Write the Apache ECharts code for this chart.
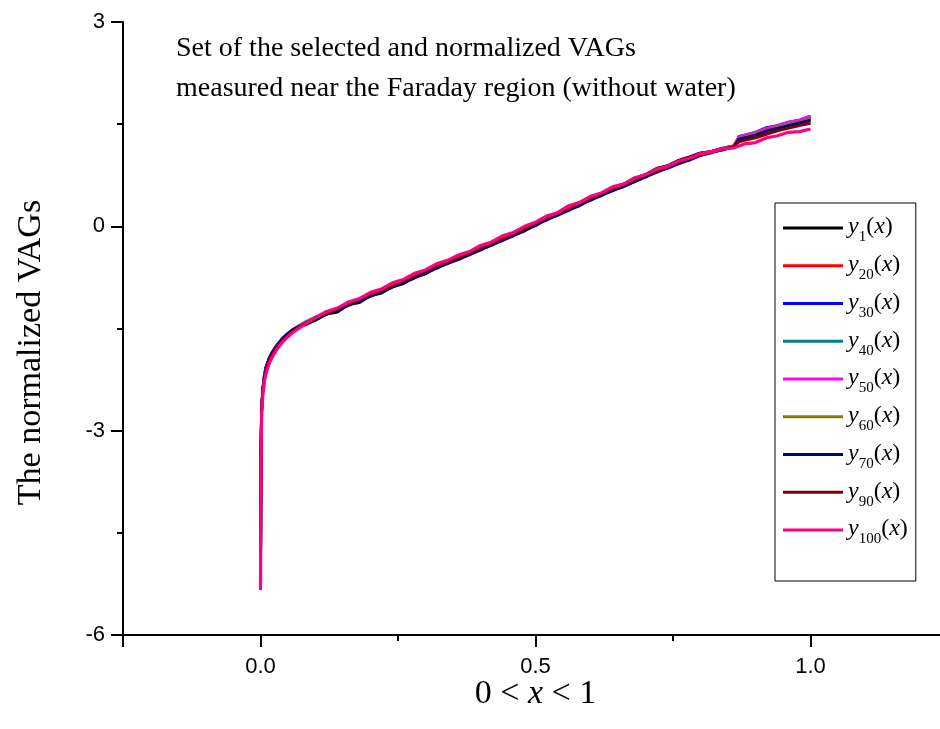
<!DOCTYPE html>
<html>
<head>
<meta charset="utf-8">
<script src="https://cdn.jsdelivr.net/npm/echarts@6/dist/echarts.min.js"></script>
<style>html,body{margin:0;padding:0;background:#fff}#c{width:940px;height:729px}</style>
</head>
<body>
<div id="c"></div>
<script>
const xs = [0, 0.0005, 0.001, 0.002, 0.004, 0.007, 0.01, 0.015, 0.02, 0.03, 0.04, 0.05, 0.06,
  0.08, 0.10, 0.12, 0.14, 0.16, 0.18, 0.20, 0.22, 0.24, 0.26,
  0.28, 0.30, 0.32, 0.34, 0.36, 0.38, 0.40, 0.42, 0.44, 0.46,
  0.48, 0.50, 0.52, 0.54, 0.56, 0.58, 0.60, 0.62, 0.64, 0.66,
  0.68, 0.70, 0.72, 0.74, 0.76, 0.78, 0.80, 0.82, 0.84, 0.86,
  0.87, 0.88, 0.90, 0.92, 0.94, 0.96, 0.98, 1.00];

const y1 = [-5.33, -4.2, -3.2, -2.68, -2.40, -2.20, -2.08, -1.96, -1.87, -1.75, -1.66, -1.59, -1.53,
  -1.45, -1.38, -1.29, -1.26, -1.15, -1.12, -1.02, -0.98, -0.89, -0.84,
  -0.75, -0.70, -0.60, -0.54, -0.46, -0.40, -0.31, -0.24, -0.17, -0.10,
  -0.02, 0.05, 0.14, 0.20, 0.29, 0.35, 0.43, 0.49, 0.57, 0.62,
  0.71, 0.76, 0.85, 0.89, 0.97, 1.02, 1.08, 1.10, 1.15, 1.18,
  1.27, 1.31, 1.33, 1.41, 1.43, 1.49, 1.51, 1.57];
const y20 = [-5.33, -4.1, -3.1, -2.66, -2.41, -2.21, -2.09, -1.97, -1.88, -1.76, -1.65, -1.58, -1.52,
  -1.42, -1.34, -1.27, -1.21, -1.13, -1.07, -0.99, -0.94, -0.86, -0.80,
  -0.72, -0.66, -0.58, -0.52, -0.45, -0.38, -0.32, -0.24, -0.18, -0.10,
  -0.04, 0.05, 0.12, 0.20, 0.27, 0.35, 0.41, 0.49, 0.55, 0.62,
  0.68, 0.76, 0.81, 0.89, 0.94, 1.01, 1.05, 1.10, 1.13, 1.17,
  1.26, 1.28, 1.32, 1.37, 1.41, 1.46, 1.49, 1.53];
const y30 = [-5.33, -4.3, -3.3, -2.72, -2.40, -2.18, -2.06, -1.95, -1.86, -1.74, -1.64, -1.57, -1.51,
  -1.42, -1.35, -1.29, -1.22, -1.16, -1.08, -1.03, -0.95, -0.89, -0.82,
  -0.76, -0.68, -0.62, -0.54, -0.49, -0.41, -0.35, -0.27, -0.21, -0.13,
  -0.07, 0.03, 0.09, 0.17, 0.23, 0.32, 0.38, 0.46, 0.52, 0.59,
  0.65, 0.73, 0.79, 0.86, 0.92, 0.99, 1.04, 1.09, 1.12, 1.17,
  1.32, 1.34, 1.38, 1.45, 1.48, 1.53, 1.56, 1.62];
const y40 = [-5.33, -4.2, -3.25, -2.70, -2.42, -2.21, -2.08, -1.96, -1.87, -1.75, -1.65, -1.57, -1.51,
  -1.41, -1.33, -1.27, -1.20, -1.14, -1.07, -1.00, -0.94, -0.87, -0.80,
  -0.73, -0.66, -0.59, -0.53, -0.46, -0.39, -0.32, -0.25, -0.19, -0.11,
  -0.05, 0.04, 0.11, 0.18, 0.26, 0.33, 0.40, 0.47, 0.54, 0.60,
  0.67, 0.74, 0.81, 0.87, 0.94, 1.00, 1.05, 1.09, 1.13, 1.17,
  1.30, 1.33, 1.37, 1.43, 1.47, 1.51, 1.55, 1.60];
const y50 = [-5.33, -4.15, -3.15, -2.69, -2.41, -2.20, -2.08, -1.96, -1.87, -1.75, -1.65, -1.58, -1.52,
  -1.42, -1.34, -1.27, -1.21, -1.14, -1.07, -1.00, -0.93, -0.87, -0.80,
  -0.73, -0.66, -0.59, -0.52, -0.46, -0.39, -0.32, -0.25, -0.18, -0.11,
  -0.04, 0.04, 0.12, 0.19, 0.26, 0.34, 0.41, 0.48, 0.55, 0.61,
  0.68, 0.75, 0.81, 0.88, 0.94, 1.00, 1.06, 1.10, 1.14, 1.18,
  1.31, 1.34, 1.38, 1.44, 1.48, 1.53, 1.56, 1.62];
const y60 = [-5.33, -4.25, -3.25, -2.71, -2.43, -2.22, -2.10, -1.98, -1.88, -1.76, -1.66, -1.58, -1.52,
  -1.42, -1.34, -1.28, -1.21, -1.14, -1.08, -1.01, -0.95, -0.88, -0.81,
  -0.74, -0.67, -0.60, -0.53, -0.47, -0.40, -0.33, -0.26, -0.19, -0.12,
  -0.05, 0.03, 0.11, 0.18, 0.25, 0.33, 0.40, 0.47, 0.54, 0.60,
  0.67, 0.74, 0.80, 0.87, 0.93, 0.99, 1.05, 1.09, 1.13, 1.17,
  1.29, 1.31, 1.36, 1.41, 1.46, 1.50, 1.53, 1.58];
const y70 = [-5.33, -4.3, -3.3, -2.73, -2.43, -2.21, -2.08, -1.96, -1.87, -1.75, -1.65, -1.57, -1.51,
  -1.43, -1.35, -1.29, -1.22, -1.16, -1.09, -1.02, -0.96, -0.89, -0.83,
  -0.75, -0.69, -0.61, -0.55, -0.48, -0.42, -0.34, -0.28, -0.20, -0.14,
  -0.06, 0.01, 0.10, 0.16, 0.24, 0.30, 0.39, 0.45, 0.53, 0.58,
  0.66, 0.72, 0.80, 0.85, 0.92, 0.97, 1.04, 1.08, 1.13, 1.16,
  1.28, 1.30, 1.34, 1.40, 1.44, 1.48, 1.52, 1.56];
const y90 = [-5.33, -4.2, -3.2, -2.70, -2.43, -2.23, -2.11, -1.98, -1.89, -1.77, -1.67, -1.59, -1.53,
  -1.43, -1.34, -1.28, -1.21, -1.14, -1.07, -1.00, -0.94, -0.87, -0.80,
  -0.73, -0.66, -0.59, -0.52, -0.46, -0.39, -0.32, -0.25, -0.18, -0.11,
  -0.04, 0.04, 0.12, 0.19, 0.26, 0.34, 0.41, 0.48, 0.55, 0.61,
  0.68, 0.75, 0.81, 0.88, 0.94, 1.00, 1.05, 1.09, 1.13, 1.17,
  1.24, 1.26, 1.30, 1.35, 1.40, 1.44, 1.48, 1.51];
const y100 = [-5.33, -4.4, -3.5, -2.80, -2.50, -2.28, -2.16, -2.03, -1.94, -1.80, -1.70, -1.62, -1.55,
  -1.44, -1.34, -1.25, -1.20, -1.11, -1.06, -0.97, -0.92, -0.83, -0.78,
  -0.69, -0.64, -0.55, -0.50, -0.42, -0.37, -0.28, -0.23, -0.14, -0.09,
  0.00, 0.06, 0.15, 0.20, 0.30, 0.35, 0.44, 0.49, 0.58, 0.62,
  0.71, 0.76, 0.84, 0.88, 0.96, 1.00, 1.07, 1.09, 1.14, 1.15,
  1.18, 1.21, 1.23, 1.30, 1.33, 1.38, 1.39, 1.43];

const seriesNames = ['y1', 'y20', 'y30', 'y40', 'y50', 'y60', 'y70', 'y90', 'y100'];
const seriesSubs = ['1', '20', '30', '40', '50', '60', '70', '90', '100'];
const seriesValues = [y1, y20, y30, y40, y50, y60, y70, y90, y100];
const seriesColors = ['#000000', '#ff0000', '#0000ff', '#008080', '#ff00ff', '#808000', '#000080', '#800000', '#ff0080'];

const xMajorTicks = [-0.25, 0, 0.5, 1.0];
const xMinorTicks = [0.25, 0.75];
const xTickLabels = [0, 0.5, 1.0];

const titleLines = ['Set of the selected and normalized VAGs', 'measured near the Faraday region (without water)'];
const yAxisTitle = 'The normalized VAGs';

const serif = "'Liberation Serif', 'Times New Roman', serif";
const sans = "'Liberation Sans', Arial, sans-serif";

const chart = echarts.init(document.getElementById('c'));
const subOf = {};
seriesNames.forEach((n, i) => subOf[n] = seriesSubs[i]);

chart.setOption({
  animation: false,
  backgroundColor: '#fff',
  title: {
    text: titleLines.join('\n'),
    left: 171, top: 24,
    textStyle: { fontFamily: serif, fontSize: 28, fontWeight: 'normal', color: '#000', lineHeight: 40 }
  },
  grid: { left: 123, width: 825, top: 22, bottom: 94, containLabel: false, outerBoundsMode: 'none' },
  legend: {
    orient: 'vertical',
    left: 775, top: 203,
    padding: [12, 8, 34, 8],
    itemGap: 7.75,
    itemWidth: 60, itemHeight: 3,
    itemStyle: { borderWidth: 0 },
    icon: 'rect',
    borderColor: '#000', borderWidth: 1,
    data: seriesNames,
    formatter: n => '{i|y}{s|' + subOf[n] + '}{p|(}{i|x}{p|)}',
    textStyle: {
      color: '#000',
      rich: {
        i: { fontFamily: serif, fontStyle: 'italic', fontSize: 24, lineHeight: 26, verticalAlign: 'top', color: '#000' },
        p: { fontFamily: serif, fontSize: 24, lineHeight: 26, verticalAlign: 'top', color: '#000' },
        s: { fontFamily: serif, fontSize: 15, lineHeight: 14, padding: [15, 0, 0, 0], verticalAlign: 'top', color: '#000' }
      }
    }
  },
  xAxis: [{
    type: 'value', min: -0.25, max: 1.25,
    position: 'bottom',
    name: '{n|0 < }{i|x}{n| < 1}',
    nameLocation: 'middle', nameGap: 42,
    nameMoveOverlap: false,
    nameTextStyle: {
      rich: {
        n: { fontFamily: serif, fontSize: 34, color: '#000' },
        i: { fontFamily: serif, fontSize: 34, fontStyle: 'italic', color: '#000' }
      }
    },
    axisLine: { onZero: false, lineStyle: { color: '#000', width: 2 } },
    axisTick: { show: true, length: 12, lineStyle: { color: '#000', width: 2 }, customValues: xMajorTicks },
    axisLabel: { customValues: xTickLabels, formatter: v => v.toFixed(1), fontFamily: sans, fontSize: 22, color: '#000', margin: 21 },
    splitLine: { show: false }
  }, {
    type: 'value', min: -0.25, max: 1.25,
    position: 'bottom',
    axisLine: { show: false, onZero: false },
    axisTick: { show: true, length: 6, lineStyle: { color: '#000', width: 2 }, customValues: xMinorTicks },
    axisLabel: { show: false },
    splitLine: { show: false }
  }],
  yAxis: {
    type: 'value', min: -6, max: 3, interval: 3,
    name: yAxisTitle,
    nameLocation: 'middle', nameGap: 75,
    nameMoveOverlap: false,
    nameTextStyle: { fontFamily: serif, fontSize: 34, color: '#000', padding: [0, 48, 0, 0] },
    axisLine: { show: true, onZero: false, lineStyle: { color: '#000', width: 2 } },
    axisTick: { show: true, length: 12, lineStyle: { color: '#000', width: 2 } },
    minorTick: { show: true, splitNumber: 2, length: 6, lineStyle: { color: '#000', width: 2 } },
    axisLabel: { fontFamily: sans, fontSize: 22, color: '#000', margin: 18 },
    splitLine: { show: false }
  },
  series: seriesNames.map((n, k) => ({
    name: n,
    type: 'line',
    xAxisIndex: 0,
    showSymbol: false,
    symbol: 'none',
    color: seriesColors[k],
    lineStyle: { width: k === 8 ? 3.2 : 2.8, color: seriesColors[k] },
    data: xs.map((x, i) => [x, seriesValues[k][i]])
  }))
});
</script>
</body>
</html>
